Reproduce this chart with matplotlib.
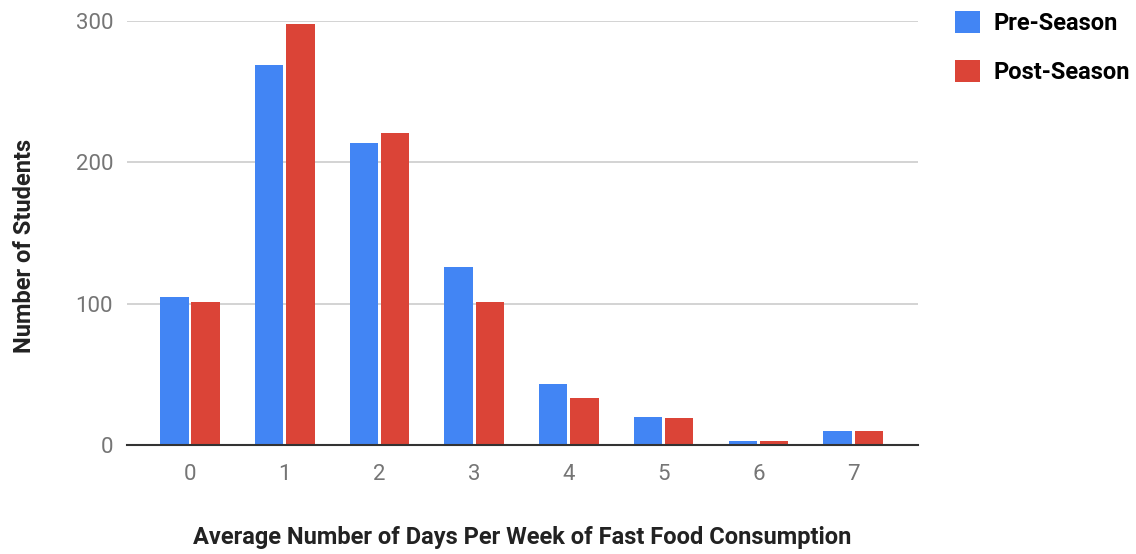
#!/usr/bin/env python3

import matplotlib
matplotlib.use('Agg')
import matplotlib.pyplot as plt
import numpy as np

days = [0, 1, 2, 3, 4, 5, 6, 7]
pre_season = [105, 269, 214, 126, 43, 20, 3, 10]
post_season = [101, 298, 221, 101, 33, 19, 3, 10]
series_names = ['Pre-Season', 'Post-Season']

BLUE = '#4285f4'
RED = '#db4437'

plt.rcParams['font.family'] = ['Roboto', 'DejaVu Sans']


def main():
    fig = plt.figure(figsize=(11.36, 5.54), dpi=100)
    ax = fig.add_axes([127 / 1136, 1 - 445 / 554, (918 - 127) / 1136, (445 - 21) / 554])

    x = np.arange(len(days))
    width = 0.3
    off = 0.165
    ax.bar(x - off, pre_season, width, color=BLUE, label=series_names[0], zorder=3)
    ax.bar(x + off, post_season, width, color=RED, label=series_names[1], zorder=3)

    ax.set_xlim(-0.665, 7.685)
    ax.set_ylim(0, 300)
    ax.set_yticks([0, 100, 200, 300])
    ax.set_xticks(x)
    ax.set_xticklabels([str(d) for d in days])

    ax.grid(axis='y', color='#cccccc', linewidth=1.2, zorder=0)
    for side in ('top', 'right', 'left'):
        ax.spines[side].set_visible(False)
    ax.spines['bottom'].set_color('#333333')
    ax.spines['bottom'].set_linewidth(1.5)
    ax.spines['bottom'].set_zorder(4)

    ax.tick_params(axis='both', length=0, labelsize=16, labelcolor='#757575')
    ax.tick_params(axis='x', pad=14)
    ax.tick_params(axis='y', pad=10)

    ax.set_xlabel('Average Number of Days Per Week of Fast Food Consumption',
                  fontsize=17, fontweight='bold', color='#222222')
    ax.set_ylabel('Number of Students', fontsize=17, fontweight='bold',
                  color='#222222')
    ax.xaxis.set_label_coords(0.5, (445 - 526) / 424)
    ax.yaxis.set_label_coords((36 - 127) / 791, 0.47)

    fig.legend(loc='upper left', bbox_to_anchor=(934 / 1136, 1 + 10 / 554),
               frameon=False, prop={'weight': 'bold', 'size': 17},
               handlelength=1.05, handleheight=1.05, handletextpad=0.55,
               labelspacing=1.05)

    fig.savefig('out.png', dpi=100)


if __name__ == '__main__':
    main()
